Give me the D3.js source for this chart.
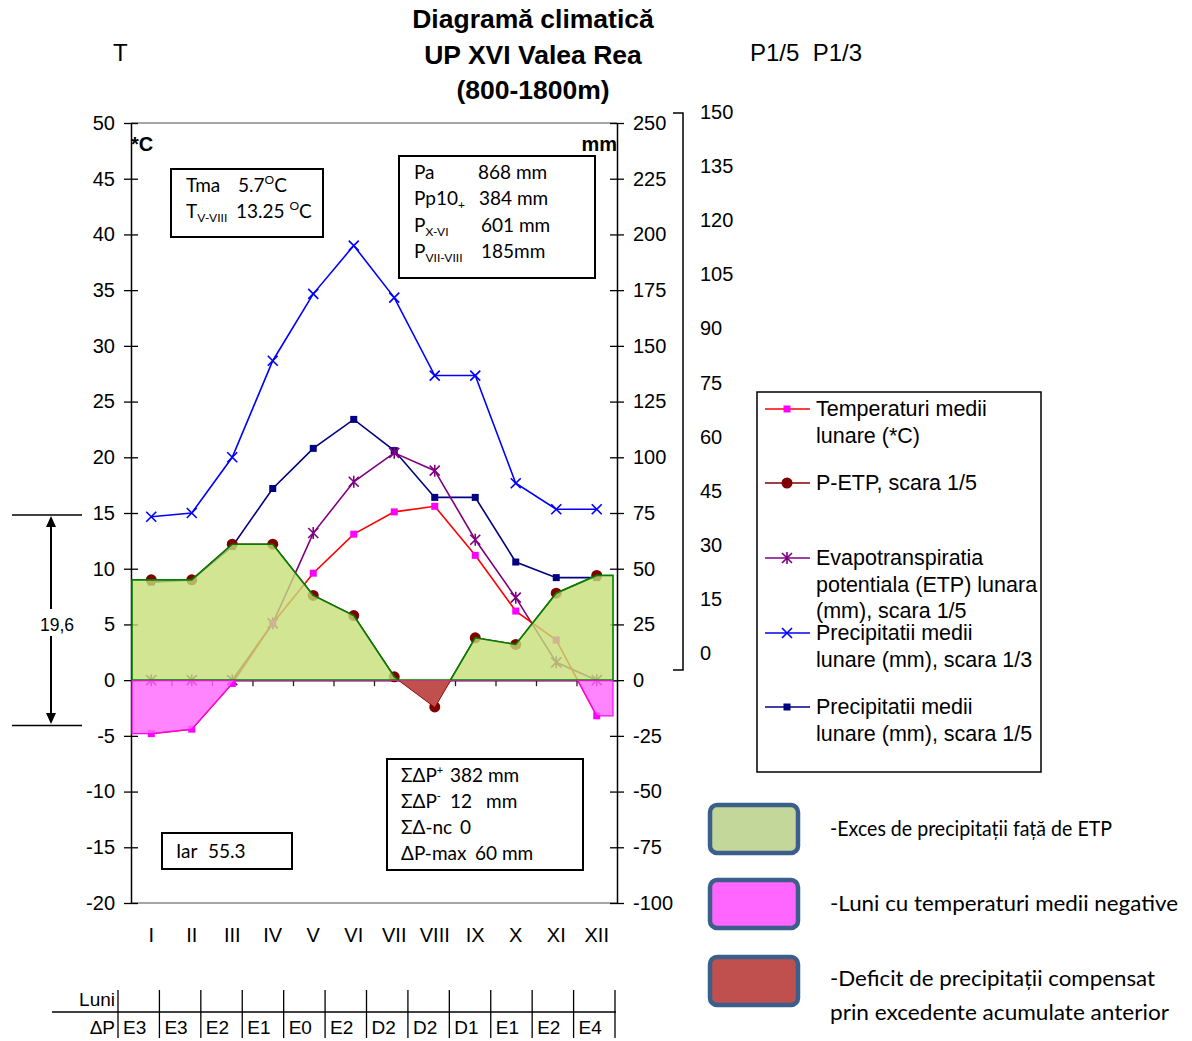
<!DOCTYPE html>
<html>
<head>
<meta charset="utf-8">
<script src="https://cdn.jsdelivr.net/npm/d3@7"></script>
<style>
  body { margin: 0; background: #fff; }
  svg { font-family: "Liberation Sans", Arial, sans-serif; }
  .cal { font-family: Lato, "Open Sans", sans-serif; }
</style>
</head>
<body>
<svg id="chart" width="1192" height="1041"></svg>
<script>
// monthly values
const months = ['I', 'II', 'III', 'IV', 'V', 'VI', 'VII', 'VIII', 'IX', 'X', 'XI', 'XII'];
const temperature = [-4.8, -4.4, -0.3, 5.1, 9.6, 13.1, 15.1, 15.6, 11.2, 6.2, 3.6, -3.2];   // *C
const precipitation = [44, 45, 60, 86, 104, 117, 103, 82, 82, 53, 46, 46];                 // mm
const etp = [0, 0, 0, 25.5, 66, 89, 102, 94, 63, 37, 8, 0];                                 // mm
const pMinusEtp = [45, 45, 61, 61, 38, 29, 1.5, -12, 19, 16, 39, 47];                       // mm
const deltaP = ['E3', 'E3', 'E2', 'E1', 'E0', 'E2', 'D2', 'D2', 'D1', 'E1', 'E2', 'E4'];

const tempTicks = [-20, -15, -10, -5, 0, 5, 10, 15, 20, 25, 30, 35, 40, 45, 50];
const mmTicks = [-100, -75, -50, -25, 0, 25, 50, 75, 100, 125, 150, 175, 200, 225, 250];
const scale3Ticks = [0, 15, 30, 45, 60, 75, 90, 105, 120, 135, 150];

const svg = d3.select('#chart');
const plot = { left: 131, right: 617, top: 123, bottom: 903 };

const x = d3.scaleBand().domain(months).range([plot.left, plot.right]);
const cx = d => x(d) + x.bandwidth() / 2;
const yT = d3.scaleLinear().domain([-20, 50]).range([plot.bottom, plot.top]);
const yMm5 = d3.scaleLinear().domain([-100, 250]).range([plot.bottom, plot.top]);  // scara 1/5
const yMm3 = d3.scaleLinear().domain([-60, 150]).range([plot.bottom, plot.top]);   // scara 1/3

// title
const title = ['Diagramă climatică', 'UP XVI Valea Rea', '(800-1800m)'];
svg.selectAll('.title').data(title).enter().append('text')
  .attr('x', 533).attr('y', (d, i) => 28 + i * 35.5)
  .attr('text-anchor', 'middle').attr('font-size', 26.5).attr('font-weight', 'bold')
  .text(d => d);
svg.append('text').attr('x', 113).attr('y', 61).attr('font-size', 24).text('T');
svg.append('text').attr('x', 750).attr('y', 61).attr('font-size', 24).attr('xml:space', 'preserve').text('P1/5  P1/3');

// plot frame (top and bottom)
svg.append('line').attr('x1', plot.left).attr('x2', plot.right).attr('y1', plot.top).attr('y2', plot.top)
  .attr('stroke', '#888').attr('stroke-width', 1.5);
svg.append('line').attr('x1', plot.left).attr('x2', plot.right).attr('y1', plot.bottom).attr('y2', plot.bottom)
  .attr('stroke', '#888').attr('stroke-width', 1.5);

// left axis
const plain = d => String(d);
const gl = svg.append('g').attr('transform', `translate(${plot.left},0)`)
  .call(d3.axisLeft(yT).tickValues(tempTicks).tickFormat(plain).tickSizeInner(7).tickSizeOuter(0).tickPadding(9));
gl.selectAll('.tick line').attr('x2', -7).attr('x1', 7);
// right axis
const gr = svg.append('g').attr('transform', `translate(${plot.right},0)`)
  .call(d3.axisRight(yMm5).tickValues(mmTicks).tickFormat(plain).tickSizeInner(7).tickSizeOuter(0).tickPadding(9));
gr.selectAll('.tick line').attr('x1', -7).attr('x2', 7);
[gl, gr].forEach(g => {
  g.select('.domain').attr('stroke', '#000').attr('stroke-width', 1.5);
  g.selectAll('.tick line').attr('stroke', '#000').attr('stroke-width', 1.3);
  g.selectAll('text').attr('font-size', 20).attr('font-family', '"Liberation Sans", Arial, sans-serif').attr('fill', '#000');
});

// third (1/3) scale, drawn as a bracket
const y3 = d3.scaleLinear().domain([0, 150]).range([653, 112]);
svg.append('path').attr('d', 'M673,113H683V670H673').attr('fill', 'none').attr('stroke', '#000').attr('stroke-width', 1.5);
svg.selectAll('.s3').data(scale3Ticks).enter().append('text')
  .attr('x', 700).attr('y', d => y3(d)).attr('dy', '0.35em').attr('font-size', 20).text(d => d);

// unit labels
svg.append('text').attr('x', 131).attr('y', 151).attr('font-size', 20).attr('font-weight', 'bold').text('*C');
svg.append('text').attr('x', 617).attr('y', 151).attr('text-anchor', 'end').attr('font-size', 20).attr('font-weight', 'bold').text('mm');

// month labels
const gm = svg.append('g').attr('transform', `translate(0,${plot.bottom})`)
  .call(d3.axisBottom(x).tickSize(0).tickPadding(25));
gm.select('.domain').remove();
gm.selectAll('text').attr('font-size', 20).attr('font-family', '"Liberation Sans", Arial, sans-serif').attr('fill', '#000');

// zero axis with ticks between months
const xEdges = d3.scaleLinear().domain([0, months.length]).range([plot.left, plot.right]);
const gz = svg.append('g').attr('transform', `translate(0,${yT(0)})`)
  .call(d3.axisBottom(xEdges).tickValues(d3.range(1, months.length)).tickFormat('').tickSizeInner(6).tickSizeOuter(0));
gz.select('.domain').attr('stroke', '#222').attr('stroke-width', 1.5);
gz.selectAll('.tick line').attr('stroke', '#222').attr('stroke-width', 1.3);

// series lines
const series = [
  { values: precipitation.map(v => yMm3(v)), color: '#0000ff', marker: 'x' },
  { values: precipitation.map(v => yMm5(v)), color: '#000080', marker: 'square' },
  { values: etp.map(v => yMm5(v)), color: '#800080', marker: 'star' },
  { values: temperature.map(v => yT(v)), color: '#ff0000', marker: 'square', markerColor: '#ff00ff' },
  { values: pMinusEtp.map(v => yMm5(v)), color: '#800000', marker: 'circle' }
];

function marker(g, type, px, py, color) {
  if (type === 'square') {
    g.append('rect').attr('x', px - 3.5).attr('y', py - 3.5).attr('width', 7).attr('height', 7).attr('fill', color);
  } else if (type === 'circle') {
    g.append('circle').attr('cx', px).attr('cy', py).attr('r', 5.5).attr('fill', color);
  } else {
    const s = 5;
    let d = `M${px - s},${py - s}L${px + s},${py + s}M${px - s},${py + s}L${px + s},${py - s}`;
    if (type === 'star') d += `M${px},${py - s - 1}V${py + s + 1}`;
    g.append('path').attr('d', d).attr('stroke', color).attr('stroke-width', 1.6).attr('fill', 'none');
  }
}

const line = d3.line().x((d, i) => cx(months[i])).y(d => d);
const gLines = svg.append('g');
series.forEach(s => {
  gLines.append('path').datum(s.values).attr('d', line)
    .attr('fill', 'none').attr('stroke', s.color).attr('stroke-width', 1.6);
  s.values.forEach((v, i) => marker(gLines, s.marker, cx(months[i]), v, s.markerColor || s.color));
});

// filled zones
const defs = svg.append('defs');
defs.append('clipPath').attr('id', 'above').append('rect')
  .attr('x', plot.left).attr('y', plot.top).attr('width', plot.right - plot.left).attr('height', yT(0) - plot.top);
defs.append('clipPath').attr('id', 'below').append('rect')
  .attr('x', plot.left).attr('y', yT(0)).attr('width', plot.right - plot.left).attr('height', plot.bottom - yT(0));

function edgePoints(vals, scale) {
  const pts = vals.map((v, i) => [cx(months[i]), scale(v)]);
  return [[plot.left + 1, scale(vals[0])], ...pts, [plot.right - 4, scale(vals[vals.length - 1])]];
}
const area = d3.area().x(d => d[0]).y0(yT(0)).y1(d => d[1]);

svg.append('path').datum(edgePoints(pMinusEtp, yMm5)).attr('d', area)
  .attr('clip-path', 'url(#above)').attr('fill', '#c6df78').attr('fill-opacity', 0.8)
  .attr('stroke', '#008000').attr('stroke-width', 1.6);
svg.append('path').datum(edgePoints(temperature, yT)).attr('d', area)
  .attr('clip-path', 'url(#below)').attr('fill', '#ff66ff').attr('fill-opacity', 0.8)
  .attr('stroke', '#ff00ff').attr('stroke-width', 1.2);
svg.append('path').datum(edgePoints(pMinusEtp, yMm5)).attr('d', area)
  .attr('clip-path', 'url(#below)').attr('fill', '#c0504d');

// info boxes
function box(x0, y0, w, h) {
  svg.append('rect').attr('x', x0).attr('y', y0).attr('width', w).attr('height', h)
    .attr('fill', 'none').attr('stroke', '#000').attr('stroke-width', 2);
}
function txt(px, py, size) {
  return svg.append('text').attr('class', 'cal').attr('x', px).attr('y', py).attr('font-size', size || 19);
}
box(171, 169, 152, 68);
let t = txt(186, 192); t.append('tspan').text('Tma'); t.append('tspan').attr('x', 238).text('5.7');
t.append('tspan').attr('dy', -8).attr('font-size', 12).text('O'); t.append('tspan').attr('dy', 8).text('C');
t = txt(186, 218); t.append('tspan').text('T'); t.append('tspan').attr('dy', 4).attr('font-size', 12).text('V-VIII');
t.append('tspan').attr('x', 236).attr('dy', -4).text('13.25 ');
t.append('tspan').attr('dy', -8).attr('font-size', 12).text('O'); t.append('tspan').attr('dy', 8).text('C');

box(399, 156, 196, 122);
t = txt(414, 179); t.append('tspan').text('Pa'); t.append('tspan').attr('x', 478).text('868 mm');
t = txt(414, 205); t.append('tspan').text('Pp10'); t.append('tspan').attr('dy', 4).attr('font-size', 12).text('+');
t.append('tspan').attr('x', 479).attr('dy', -4).text('384 mm');
t = txt(414, 232); t.append('tspan').text('P'); t.append('tspan').attr('dy', 4).attr('font-size', 12).text('X-VI');
t.append('tspan').attr('x', 481).attr('dy', -4).text('601 mm');
t = txt(414, 258); t.append('tspan').text('P'); t.append('tspan').attr('dy', 4).attr('font-size', 12).text('VII-VIII');
t.append('tspan').attr('x', 481).attr('dy', -4).text('185mm');

box(387, 759, 196, 111);
t = txt(401, 782); t.append('tspan').text('ΣΔP'); t.append('tspan').attr('dy', -8).attr('font-size', 11).text('+');
t.append('tspan').attr('x', 450).attr('dy', 8).text('382 mm');
t = txt(401, 808); t.append('tspan').text('ΣΔP'); t.append('tspan').attr('dy', -8).attr('font-size', 11).text('-');
t.append('tspan').attr('x', 450).attr('dy', 8).text('12'); t.append('tspan').attr('x', 486).text('mm');
t = txt(401, 834); t.append('tspan').text('ΣΔ-nc'); t.append('tspan').attr('x', 460).text('0');
t = txt(401, 860); t.append('tspan').text('ΔP-max'); t.append('tspan').attr('x', 475).text('60 mm');

box(162, 833, 130, 36);
t = txt(176, 858); t.append('tspan').text('Iar'); t.append('tspan').attr('x', 208).text('55.3');

// 19,6 amplitude mark
svg.append('line').attr('x1', 12).attr('x2', 82).attr('y1', 515).attr('y2', 515).attr('stroke', '#000').attr('stroke-width', 1.3);
svg.append('line').attr('x1', 12).attr('x2', 82).attr('y1', 725.5).attr('y2', 725.5).attr('stroke', '#000').attr('stroke-width', 1.3);
svg.append('line').attr('x1', 51).attr('x2', 51).attr('y1', 524).attr('y2', 609).attr('stroke', '#000').attr('stroke-width', 2);
svg.append('line').attr('x1', 51).attr('x2', 51).attr('y1', 636).attr('y2', 717).attr('stroke', '#000').attr('stroke-width', 2);
svg.append('path').attr('d', 'M51,516L46,527H56Z M51,724L46,713H56Z').attr('fill', '#000');
svg.append('text').attr('x', 57).attr('y', 631).attr('text-anchor', 'middle').attr('font-size', 17.5).text('19,6');

// series legend
svg.append('rect').attr('x', 757).attr('y', 392).attr('width', 284).attr('height', 380)
  .attr('fill', '#fff').attr('stroke', '#000').attr('stroke-width', 1.5);
const legendItems = [
  { y: 409, lines: ['Temperaturi medii', 'lunare (*C)'], color: '#ff0000', marker: 'square', markerColor: '#ff00ff' },
  { y: 483, lines: ['P-ETP, scara 1/5'], color: '#800000', marker: 'circle' },
  { y: 558, lines: ['Evapotranspiratia', 'potentiala (ETP) lunara', '(mm), scara 1/5'], color: '#800080', marker: 'star' },
  { y: 633, lines: ['Precipitatii medii', 'lunare (mm), scara 1/3'], color: '#0000ff', marker: 'x' },
  { y: 707, lines: ['Precipitatii medii', 'lunare (mm), scara 1/5'], color: '#000080', marker: 'square' }
];
const gLeg = svg.append('g');
legendItems.forEach(it => {
  gLeg.append('line').attr('x1', 765).attr('x2', 810).attr('y1', it.y).attr('y2', it.y)
    .attr('stroke', it.color).attr('stroke-width', 1.6);
  marker(gLeg, it.marker, 787, it.y, it.markerColor || it.color);
  it.lines.forEach((l, i) => gLeg.append('text').attr('x', 816).attr('y', it.y + 7 + i * 26.7)
    .attr('font-size', 21.5).text(l));
});

// zone legend
const zones = [
  { y: 805, fill: '#c4d79b', lines: ['-Exces de precipitații față de ETP'], widths: [282] },
  { y: 880, fill: '#ff66ff', lines: ['-Luni cu temperaturi medii negative'], widths: [348] },
  { y: 957, fill: '#c0504d', lines: ['-Deficit de precipitații compensat', 'prin excedente acumulate anterior'], widths: [325, 339] }
];
zones.forEach(z => {
  svg.append('rect').attr('x', 710).attr('y', z.y).attr('width', 88).attr('height', 48).attr('rx', 7)
    .attr('fill', z.fill).attr('stroke', '#3b5e8a').attr('stroke-width', 4.5);
  z.lines.forEach((l, i) => svg.append('text').attr('class', 'cal').attr('x', 830)
    .attr('y', z.y + 31 + (z.lines.length > 1 ? -2 : 0) + i * 34).attr('font-size', 21)
    .attr('textLength', z.widths[i]).attr('lengthAdjust', 'spacingAndGlyphs').text(l));
});

// delta P table
const xt = d3.scaleBand().domain(months).range([118, 615]);
svg.append('line').attr('x1', 52).attr('x2', 616).attr('y1', 1012).attr('y2', 1012).attr('stroke', '#000').attr('stroke-width', 1.3);
svg.selectAll('.sep').data(months.concat(['end'])).enter().append('line')
  .attr('x1', (d, i) => 118 + i * xt.bandwidth()).attr('x2', (d, i) => 118 + i * xt.bandwidth())
  .attr('y1', 990).attr('y2', 1038).attr('stroke', '#000').attr('stroke-width', 1.3);
svg.append('text').attr('x', 115).attr('y', 1006).attr('text-anchor', 'end').attr('font-size', 19).text('Luni');
svg.append('text').attr('x', 115).attr('y', 1034).attr('text-anchor', 'end').attr('font-size', 19).text('ΔP');
svg.selectAll('.dp').data(deltaP).enter().append('text')
  .attr('x', (d, i) => xt(months[i]) + 5).attr('y', 1034).attr('font-size', 19).text(d => d);
</script>
</body>
</html>
